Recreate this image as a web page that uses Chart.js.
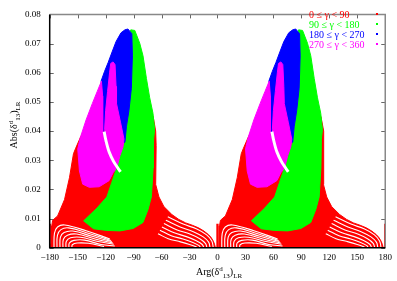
<!DOCTYPE html>
<html>
<head>
<meta charset="utf-8">
<script src="https://cdn.jsdelivr.net/npm/chart.js@4"></script>
<style>
  html, body { margin: 0; padding: 0; background: #fff; }
  canvas { display: block; }
</style>
</head>
<body>
<canvas id="chart" width="397" height="281"></canvas>
<script>
// axis ticks
const xTickValues = [-180, -150, -120, -90, -60, -30, 0, 30, 60, 90, 120, 150, 180];
const xTickLabels = ['\u2212180', '\u2212150', '\u2212120', '\u221290', '\u221260', '\u221230', '0', '30', '60', '90', '120', '150', '180'];
const yTickValues = [0, 0.01, 0.02, 0.03, 0.04, 0.05, 0.06, 0.07, 0.08];
const yTickLabels = ['0', '0.01', '0.02', '0.03', '0.04', '0.05', '0.06', '0.07', '0.08'];

// legend
const legendLabels = ['0 \u2264 \u03b3 < 90', '90 \u2264 \u03b3 < 180', '180 \u2264 \u03b3 < 270', '270 \u2264 \u03b3 < 360'];
const gammaColors = ['#ff0000', '#00ff00', '#0000ff', '#ff00ff'];

// the scan repeats every 180 deg in Arg, so one lobe is read and copied
const lobeShifts = [0, 180];

// outline of the red points, one lobe  [Arg, Abs]
const redRegion = [
  [-147.1, 0.0378], [-152.4, 0.0339], [-154.5, 0.0322], [-158.8, 0.0240], [-164.1, 0.0165],
  [-171.5, 0.0109], [-176.8, 0.0094], [-177.8, 0.0075], [-178.1, 0.0040], [-178.2, 0],
  [-2.2, 0], [-3.2, 0.0012], [-4.4, 0.0022], [-6.8, 0.0035], [-9.7, 0.0045], [-14.5, 0.0057],
  [-20.3, 0.0068], [-27, 0.0077], [-34.1, 0.0085], [-41.5, 0.0097], [-49, 0.0114],
  [-57.5, 0.0141], [-62.8, 0.0174], [-66.3, 0.0217], [-65.8, 0.0350], [-66.3, 0.0400],
  [-69, 0.0450], [-95, 0.0420], [-110, 0.0420], [-125, 0.0440], [-140, 0.0420]
];

// empty rows between sparse red points, near Arg = -180 (right of it)
const gapRowsLow = [
  [[-175.4, 0], [-174.9, 0.0049], [-171.6, 0.0071], [-163.9, 0.0078], [-140.9, 0.0058], [-115.5, 0.0030]],
  [[-172.2, 0], [-171.7, 0.0042], [-168, 0.0062], [-159.7, 0.0068], [-137.7, 0.0049], [-114.5, 0.0025]],
  [[-169, 0], [-168.5, 0.0036], [-164.6, 0.0052], [-155.4, 0.0057], [-134.5, 0.0039], [-113.4, 0.0021]],
  [[-165.8, 0], [-165.3, 0.0029], [-161, 0.0043], [-151.2, 0.0047], [-131.3, 0.0030], [-112.3, 0.0016]],
  [[-162.6, 0], [-162.1, 0.0022], [-157.6, 0.0034], [-146.9, 0.0036], [-128.1, 0.0021], [-111.3, 0.0012]],
  [[-159.4, 0], [-158.9, 0.0016], [-154.1, 0.0025], [-142.7, 0.0026], [-124.9, 0.0011], [-110.2, 0.0006]],
  [[-156.2, 0], [-155.7, 0.0010], [-150.6, 0.0016], [-138.4, 0.0015], [-121.7, 0.0004]]
];

// empty rows near Arg = 0 (left of it)
const gapRowsHigh = [
  [[-4.5, 0], [-6.1, 0.0023], [-11.6, 0.0044], [-22.2, 0.0064], [-36.8, 0.0081], [-53.3, 0.0106]],
  [[-7.9, 0], [-9.5, 0.0019], [-15.3, 0.0037], [-25.9, 0.0055], [-40, 0.0071], [-55.4, 0.0094]],
  [[-11.3, 0], [-12.9, 0.0015], [-19, 0.0031], [-29.6, 0.0047], [-43.2, 0.0061], [-57.5, 0.0083]],
  [[-14.7, 0], [-16.3, 0.0011], [-22.7, 0.0024], [-33.3, 0.0038], [-46.4, 0.0051], [-59.6, 0.0071]],
  [[-18.1, 0], [-19.7, 0.0007], [-26.4, 0.0018], [-37, 0.0030], [-49.6, 0.0041], [-61.7, 0.0060]],
  [[-21.5, 0], [-23.1, 0.0003], [-30, 0.0011], [-40.7, 0.0021], [-52.8, 0.0031], [-63.8, 0.0048]]
];

// red points exactly at Arg = -180 (and 0, 180)
const redStem = [[-180, 0], [-180, 0.0082]];

const greenRegion = [
  [-92.9, 0.0747], [-88.7, 0.0745], [-83.4, 0.0701], [-79.9, 0.0658], [-76.2, 0.0580],
  [-72.7, 0.0514], [-69.2, 0.0461], [-67.4, 0.0405], [-68.5, 0.0372], [-69.0, 0.0273],
  [-70.9, 0.0174], [-74.5, 0.0131], [-79.9, 0.00865], [-90.5, 0.00658], [-104.6, 0.00576],
  [-118.7, 0.00592], [-133.0, 0.00648], [-143.6, 0.00921], [-141.8, 0.00977], [-129.3, 0.0136],
  [-118.7, 0.0174], [-113.4, 0.0224], [-109.9, 0.0257], [-106.7, 0.0290], [-101.1, 0.0344],
  [-99.3, 0.0362], [-98, 0.0415], [-96, 0.0470], [-94, 0.0546], [-93, 0.0658], [-93.5, 0.0734]
];

const blueRegion = [
  [-96.1, 0.0750], [-91.9, 0.0734], [-91.3, 0.0658], [-92.4, 0.0546], [-95.0, 0.0470],
  [-97.7, 0.0415], [-99.3, 0.0362], [-109.9, 0.0355], [-120.5, 0.0355], [-123.7, 0.0454],
  [-124.8, 0.0572], [-121.1, 0.0605], [-117.3, 0.0635], [-113.1, 0.0671], [-108.8, 0.0707],
  [-103.5, 0.0737], [-99.3, 0.0747]
];

const magentaLeft = [
  [-124.5, 0.0571], [-123.2, 0.0520], [-123.2, 0.0395], [-121.1, 0.0362], [-116.3, 0.0322],
  [-111.0, 0.0290], [-108.8, 0.0270], [-112.0, 0.0257], [-116.3, 0.0230], [-126.9, 0.0209],
  [-137.5, 0.0207], [-144.6, 0.0218], [-148.1, 0.0263], [-149.9, 0.0339], [-147.1, 0.0378],
  [-141.0, 0.0438], [-134.3, 0.0494], [-129.0, 0.0536]
];

const magentaRight = [
  [-114.5, 0.0632], [-112.0, 0.0637], [-109.9, 0.0628], [-108.8, 0.0553], [-108.3, 0.0494],
  [-103.9, 0.0428], [-100.3, 0.0372], [-101.4, 0.0345], [-104.6, 0.0316], [-106.7, 0.0290],
  [-107.8, 0.0273], [-112.0, 0.0296], [-116.3, 0.0332], [-118.9, 0.0368], [-121.1, 0.0405],
  [-120.0, 0.0470], [-117.9, 0.0536], [-115.7, 0.0602]
];

// empty seam between the two magenta patches
const whiteSeam = [[-121.6, 0.0398], [-119.5, 0.0365], [-116.3, 0.0329], [-111.5, 0.0296], [-106.2, 0.0270], [-104.1, 0.0260]];

const FONT = "'Liberation Serif', 'Times New Roman', serif";

function pts(arr, shift) {
  return arr.map(p => ({x: p[0] + shift, y: p[1]}));
}

function area(arr, shift, color) {
  const d = pts(arr, shift);
  d.push(d[0]);
  return {data: d, showLine: true, fill: 'shape', backgroundColor: color, borderColor: color,
    borderWidth: 1, pointRadius: 0, tension: 0};
}

function stroke(arr, shift, color, w, tension) {
  return {data: pts(arr, shift), showLine: true, fill: false, borderColor: color,
    borderWidth: w, pointRadius: 0, tension: tension, borderCapStyle: 'butt'};
}

// painter order: first = bottom
const layers = [];
lobeShifts.forEach(s => {
  layers.push(area(redRegion, s, gammaColors[0]));
  gapRowsLow.forEach(a => layers.push(stroke(a, s, '#ffffff', 1.1, 0.4)));
  gapRowsHigh.forEach(a => layers.push(stroke(a, s, '#ffffff', 1.1, 0.4)));
  layers.push(stroke(redStem, s, gammaColors[0], 2.3, 0));
});
layers.push(stroke([[180, 0], [180, 0.0082]], 0, gammaColors[0], 2.3, 0));
lobeShifts.forEach(s => layers.push(area(greenRegion, s, gammaColors[1])));
lobeShifts.forEach(s => layers.push(area(blueRegion, s, gammaColors[2])));
lobeShifts.forEach(s => {
  layers.push(area(magentaLeft, s, gammaColors[3]));
  layers.push(area(magentaRight, s, gammaColors[3]));
});
lobeShifts.forEach(s => layers.push(stroke(whiteSeam, s, '#ffffff', 3, 0.3)));

// Chart.js puts dataset 0 on top
const datasets = layers.slice().reverse();

function richText(ctx, segs, x, y) {
  let w = 0;
  segs.forEach(s => { ctx.font = s[1] + 'px ' + FONT; w += ctx.measureText(s[0]).width; });
  let cx = x - w / 2;
  segs.forEach(s => {
    ctx.font = s[1] + 'px ' + FONT;
    ctx.fillText(s[0], cx, y + s[2]);
    cx += ctx.measureText(s[0]).width;
  });
}

const framePlugin = {
  id: 'frame',
  beforeDatasetsDraw(chart) {
    const {ctx, chartArea: a, scales: {x, y}} = chart;
    ctx.save();
    ctx.strokeStyle = '#666';
    ctx.lineWidth = 1;
    ctx.beginPath();
    xTickValues.forEach(v => {
      const px = Math.round(x.getPixelForValue(v)) + 0.5;
      ctx.moveTo(px, a.bottom); ctx.lineTo(px, a.bottom - 4);
      ctx.moveTo(px, a.top); ctx.lineTo(px, a.top + 4);
    });
    yTickValues.forEach(v => {
      const py = Math.round(y.getPixelForValue(v)) + 0.5;
      ctx.moveTo(a.left, py); ctx.lineTo(a.left + 4, py);
      ctx.moveTo(a.right, py); ctx.lineTo(a.right - 4, py);
    });
    ctx.stroke();
    ctx.restore();
  },
  afterDatasetsDraw(chart) {
    const {ctx, chartArea: a} = chart;
    ctx.save();
    ctx.lineWidth = 1.5;
    ctx.strokeStyle = '#888';
    ctx.beginPath();
    ctx.moveTo(a.left, a.top); ctx.lineTo(a.right, a.top); ctx.lineTo(a.right, a.bottom);
    ctx.stroke();
    ctx.strokeStyle = '#000';
    ctx.beginPath();
    ctx.moveTo(a.left, a.top); ctx.lineTo(a.left, a.bottom); ctx.lineTo(a.right, a.bottom);
    ctx.stroke();
    ctx.restore();
  },
  afterDraw(chart) {
    const {ctx} = chart;
    ctx.save();
    // legend, left justified like the original key
    ctx.font = '10px ' + FONT;
    ctx.textAlign = 'left';
    ctx.textBaseline = 'alphabetic';
    legendLabels.forEach((t, i) => {
      ctx.fillStyle = gammaColors[i];
      ctx.fillText(t, 309, 17.5 + i * 10);
      ctx.fillRect(376, 13 + i * 10, 2, 2);
    });
    // axis titles
    ctx.fillStyle = '#000';
    const tail = [['\u03b4', 10, 0], ['d', 7, -4], ['13', 7, 2.5], [')', 10, 0], ['LR', 7, 3]];
    richText(ctx, [['Arg(', 10, 0]].concat(tail), 219, 275);
    ctx.translate(17, 125);
    ctx.rotate(-Math.PI / 2);
    richText(ctx, [['Abs(', 10, 0]].concat(tail), 0, 0);
    ctx.restore();
  }
};

new Chart(document.getElementById('chart'), {
  type: 'scatter',
  data: {datasets: datasets},
  options: {
    responsive: false,
    animation: false,
    devicePixelRatio: 1,
    layout: {padding: {top: 5, right: 8.5, left: 0, bottom: 0}},
    plugins: {legend: {display: false}, tooltip: {enabled: false}},
    scales: {
      x: {
        type: 'linear', min: -180, max: 180,
        afterBuildTicks: s => { s.ticks = xTickValues.map(v => ({value: v})); },
        afterFit: s => { s.height = 33.3; },
        grid: {display: false, drawTicks: false},
        border: {display: false},
        ticks: {
          autoSkip: false, maxRotation: 0, padding: 5, color: '#000',
          font: {family: FONT, size: 9},
          callback: (v, i) => xTickLabels[i]
        }
      },
      y: {
        type: 'linear', min: 0, max: 0.08,
        afterBuildTicks: s => { s.ticks = yTickValues.map(v => ({value: v})); },
        afterFit: s => { s.width = 49.7; },
        grid: {display: false, drawTicks: false},
        border: {display: false},
        ticks: {
          autoSkip: false, padding: 9, color: '#000',
          font: {family: FONT, size: 9},
          callback: (v, i) => yTickLabels[i]
        }
      }
    }
  },
  plugins: [framePlugin]
});
</script>
</body>
</html>
